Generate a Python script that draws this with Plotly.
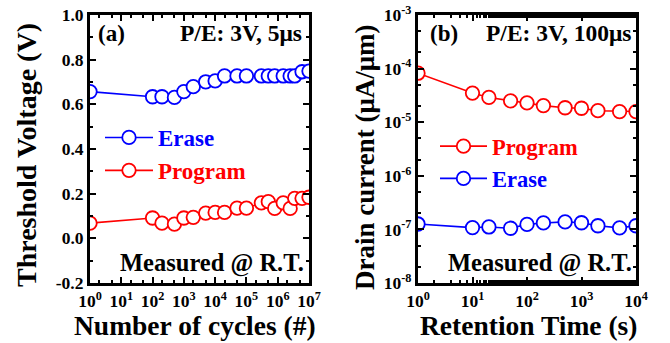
import plotly.graph_objects as go

# Panel (a): endurance
cycles = [1, 100, 200, 500, 1e3, 2e3, 5e3, 1e4, 2e4, 5e4, 1e5, 3e5, 5e5, 8e5, 1.5e6, 2.5e6, 3.5e6, 6e6, 1e7]
vt_erase = [0.657, 0.634, 0.634, 0.631, 0.657, 0.679, 0.701, 0.705, 0.727, 0.727, 0.727, 0.727,
            0.727, 0.727, 0.727, 0.727, 0.727, 0.746, 0.749]
vt_program = [0.068, 0.091, 0.068, 0.064, 0.091, 0.094, 0.113, 0.116, 0.116, 0.135, 0.135, 0.159,
              0.164, 0.134, 0.159, 0.134, 0.179, 0.179, 0.184]

# Panel (b): retention
ret_time = [1, 10, 20, 50, 100, 200, 500, 1000, 2000, 5000, 10000]
id_program = [8.2e-5, 3.5e-5, 2.9e-5, 2.5e-5, 2.3e-5, 2.04e-5, 1.86e-5, 1.82e-5, 1.64e-5, 1.58e-5, 1.58e-5]
id_erase = [1.26e-7, 1.08e-7, 1.11e-7, 1.05e-7, 1.24e-7, 1.32e-7, 1.38e-7, 1.33e-7, 1.17e-7, 1.07e-7, 1.17e-7]

xa_tickvals = [10 ** k for k in range(0, 8)]
xa_ticktext = [f"<b>10<sup>{k}</sup></b>" for k in range(0, 8)]
ya_tickvals = [-0.2, 0.0, 0.2, 0.4, 0.6, 0.8, 1.0]
ya_ticktext = ["<b>" + t + "</b>" for t in ["-0.2", "0.0", "0.2", "0.4", "0.6", "0.8", "1.0"]]
xb_tickvals = [10 ** k for k in range(0, 5)]
xb_ticktext = [f"<b>10<sup>{k}</sup></b>" for k in range(0, 5)]
yb_tickvals = [10.0 ** k for k in range(-8, -2)]
yb_ticktext = [f"<b>10<sup>{k}</sup></b>" for k in range(-8, -2)]

BLUE = "#0000FF"
RED = "#FF0000"
FONT = "Liberation Serif"

fig = go.Figure()

def add(x, y, color, name, xa, ya, legend):
    fig.add_trace(go.Scatter(
        x=x, y=y, mode="lines+markers",
        name=f"<b><span style='color:{color}'>{name}</span></b>",
        line=dict(color=color, width=1.6),
        marker=dict(symbol="circle", size=13.5, color="white", line=dict(color=color, width=1.8)),
        xaxis=xa, yaxis=ya, legend=legend,
    ))

add(cycles, vt_erase, BLUE, "Erase", "x", "y", "legend")
add(cycles, vt_program, RED, "Program", "x", "y", "legend")
add(ret_time, id_program, RED, "Program", "x2", "y2", "legend2")
add(ret_time, id_erase, BLUE, "Erase", "x2", "y2", "legend2")

W, H = 670, 343
ax_a = (90 / W, 309 / W)
ax_b = (418 / W, 636 / W)
ydom = (1 - 283 / H, 1 - 15 / H)

common = dict(showline=True, linewidth=3, linecolor="black", mirror="ticks",
              ticks="inside", ticklen=6, tickwidth=2, tickcolor="black",
              showgrid=False, zeroline=False, automargin=False,
              tickfont=dict(family=FONT, size=17.5, color="black"))
minor = dict(ticks="inside", ticklen=3, tickwidth=1.5, tickcolor="black", showgrid=False)

fig.update_layout(
    width=W, height=H, margin=dict(l=0, r=0, t=0, b=0, autoexpand=False),
    paper_bgcolor="white", plot_bgcolor="white",
    font=dict(family=FONT, color="black"),
    xaxis=dict(type="log", domain=ax_a, range=[0, 7], tickvals=xa_tickvals, ticktext=xa_ticktext,
               minor=minor, anchor="y", **common),
    yaxis=dict(domain=ydom, range=[-0.2, 1.0], tickvals=ya_tickvals, ticktext=ya_ticktext,
               minor=dict(dtick=0.1, **minor), anchor="x", **common),
    xaxis2=dict(type="log", domain=ax_b, range=[0, 4], tickvals=xb_tickvals, ticktext=xb_ticktext,
                minor=minor, anchor="y2", **common),
    yaxis2=dict(type="log", domain=ydom, range=[-8, -3], tickvals=yb_tickvals, ticktext=yb_ticktext,
                minor=minor, anchor="x2", **common),
    legend=dict(x=100 / W, y=1 - 116 / H, xanchor="left", yanchor="top",
                bgcolor="rgba(0,0,0,0)", font=dict(family=FONT, size=23),
                tracegroupgap=0, itemwidth=48),
    legend2=dict(x=435 / W, y=1 - 125 / H, xanchor="left", yanchor="top",
                 bgcolor="rgba(0,0,0,0)", font=dict(family=FONT, size=22.5),
                 tracegroupgap=0, itemwidth=47),
    showlegend=True,
)

def ann(text, x, y, size, xanchor="center", angle=0, color="black"):
    fig.add_annotation(text=text, x=x / W, y=1 - y / H, xref="paper", yref="paper",
                       showarrow=False, xanchor=xanchor, yanchor="middle", textangle=angle,
                       font=dict(family=FONT, size=size, color=color))

ann("<b>(a)</b>", 96, 33, 23, "left")
ann("<b>P/E: 3V, 5μs</b>", 304, 33, 23.5, "right")
ann("<b>Measured @ R.T.</b>", 306, 263, 24.5, "right")
ann("<b>(b)</b>", 428, 33, 23, "left")
ann("<b>P/E: 3V, 100μs</b>", 633, 33, 23.5, "right")
ann("<b>Measured @ R.T.</b>", 634, 263, 24.5, "right")

ann("<b>Number of cycles (#)</b>", 195, 325, 27.5)
ann("<b>Retention Time (s)</b>", 528, 325, 27.5)
ann("<b>Threshold Voltage (V)</b>", 27, 155, 28, angle=-90)
ann("<b>Drain current (μA/μm)</b>", 365, 157, 27, angle=-90)

fig.write_html("out.html")
